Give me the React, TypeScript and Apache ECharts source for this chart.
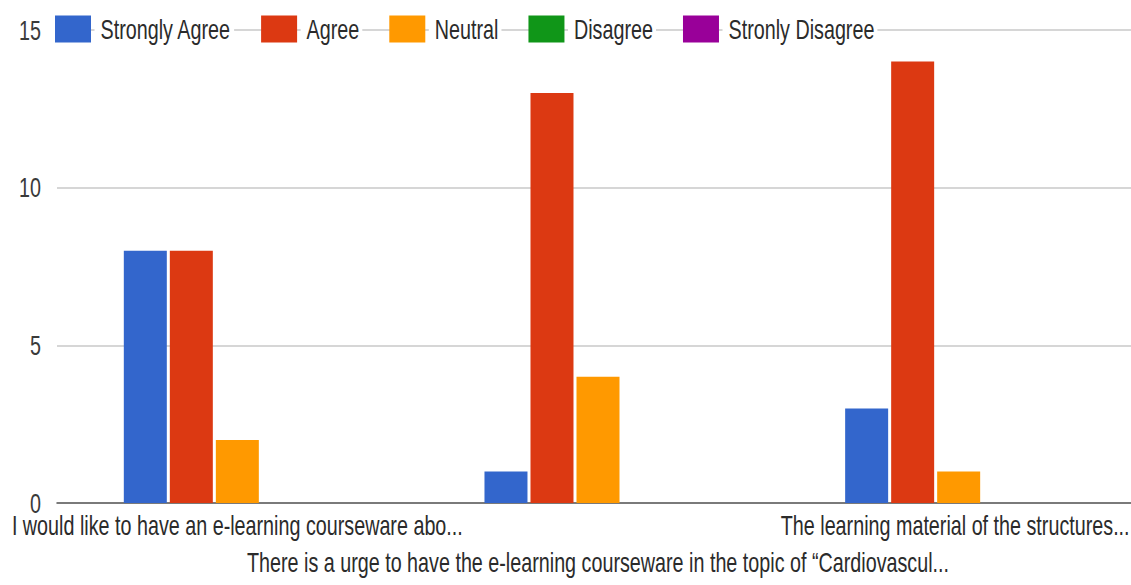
import React, { useEffect, useRef } from "react";
import * as echarts from "echarts";

const categories = [
  "I would like to have an e-learning courseware abo...",
  "There is a urge to have the e-learning courseware in the topic of \u201cCardiovascul...",
  "The learning material of the structures...",
];
const seriesNames = ["Strongly Agree", "Agree", "Neutral", "Disagree", "Stronly Disagree"];
const stronglyAgree = [8, 1, 3];
const agree = [8, 13, 14];
const neutral = [2, 4, 1];
const disagree = [0, 0, 0];
const stronglyDisagree = [0, 0, 0];
const yTicks = [0, 5, 10, 15];

const colors = ["#3366cc", "#dc3912", "#ff9900", "#109618", "#990099"];
const FONT = "'Liberation Sans', Arial, sans-serif";

// The chart is laid out on a wider canvas and squeezed horizontally,
// which gives the condensed lettering of the original.
const SQUEEZE = 0.705;
const WIDTH = 1131;
const HEIGHT = 585;
const sx = (v: number) => v / SQUEEZE;

const labelText = { fontFamily: FONT, fontSize: 28, color: "#2b2b2b", lineHeight: 37 };

export default function App() {
  const ref = useRef<HTMLDivElement>(null);
  useEffect(() => {
    if (!ref.current) return;
    const chart = echarts.init(ref.current, null, { renderer: "svg" });
    const values = [stronglyAgree, agree, neutral, disagree, stronglyDisagree];
    const last = categories.length - 1;
    chart.setOption({
      animation: false,
      backgroundColor: "#ffffff",
      color: colors,
      textStyle: { fontFamily: FONT },
      legend: {
        left: sx(55),
        top: 15,
        padding: 0,
        itemWidth: sx(36),
        itemHeight: 27,
        itemGap: sx(27),
        icon: "rect",
        data: seriesNames,
        textStyle: {
          fontFamily: FONT,
          fontSize: 28,
          color: "#2b2b2b",
          backgroundColor: "#ffffff",
          padding: [0, sx(3), 0, sx(6)],
        },
      },
      grid: { left: sx(57), width: sx(1082), top: 30, bottom: 82, containLabel: false },
      xAxis: {
        type: "category",
        data: categories,
        axisTick: { show: false },
        axisLine: { lineStyle: { color: "#7a7a7a", width: 2 } },
        axisLabel: {
          interval: 0,
          ...labelText,
          margin: 4,
          // middle label drops to a second row; the last one is nudged in from the edge
          formatter: (v: string, i: number) =>
            i === 1 ? "\n" + v : i === last ? "{edge|" + v + "}" : v,
          rich: {
            edge: { ...labelText, padding: [0, sx(7), 0, 0] },
          },
        },
      },
      yAxis: {
        type: "value",
        min: yTicks[0],
        max: yTicks[yTicks.length - 1],
        interval: 5,
        axisLine: { show: false },
        axisTick: { show: false },
        splitLine: { lineStyle: { color: "#d6d6d6", width: 2 } },
        axisLabel: {
          fontFamily: FONT,
          fontSize: 28,
          color: "#3a3a3a",
          margin: sx(16),
          padding: [0, 0, 7, 0],
        },
      },
      series: seriesNames.map((name, k) => ({
        name,
        type: "bar",
        data: values[k],
        barWidth: sx(43),
        barGap: "7%",
        itemStyle: { color: colors[k] },
      })),
    });
    return () => chart.dispose();
  }, []);
  return (
    <div
      style={{
        position: "fixed",
        left: 0,
        top: 0,
        width: WIDTH,
        height: HEIGHT,
        overflow: "hidden",
        background: "#fff",
      }}
    >
      <div
        ref={ref}
        style={{
          width: sx(WIDTH + 20),
          height: HEIGHT,
          transform: `scaleX(${SQUEEZE})`,
          transformOrigin: "0 0",
        }}
      />
    </div>
  );
}
